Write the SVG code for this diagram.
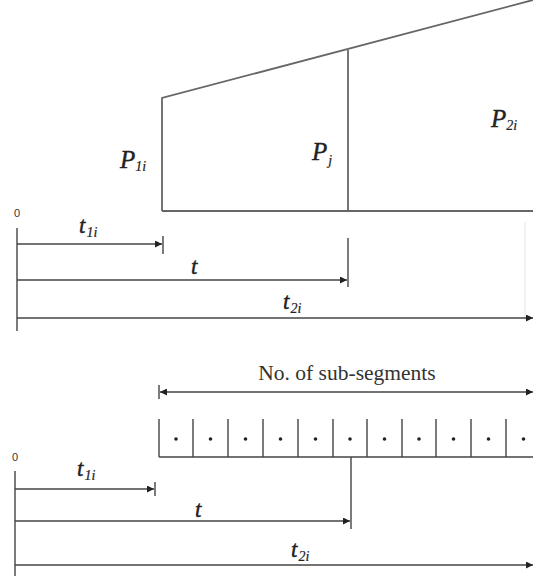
<svg xmlns="http://www.w3.org/2000/svg" width="533" height="577" viewBox="0 0 533 577">
<style>
.ln{stroke:#444;stroke-width:1.4;fill:none}
.bx{stroke:#666;stroke-width:1.8;fill:none}
.it{font-family:"Liberation Serif","Times New Roman",serif;font-style:italic;fill:#222;stroke:#222;stroke-width:0.4}
.big{font-size:25px}
.mid{font-size:23px}
.sub{font-size:14px;stroke-width:0.2}
.zero{font-family:"Liberation Sans",Arial,sans-serif;font-size:11px;fill:#333}
.lab{font-family:"Liberation Serif","Times New Roman",serif;font-size:21.5px;fill:#333}
</style>
<defs>
<marker id="ah" viewBox="0 0 10 10" refX="10" refY="5" markerWidth="9" markerHeight="7" markerUnits="userSpaceOnUse" orient="auto-start-reverse">
<path d="M0,0 L10,5 L0,10 Z" fill="#222"/>
</marker>
</defs>

<g id="power-profile">
<path class="bx" d="M162,211 L162,98 L533,0"/>
<line class="bx" x1="348" y1="50" x2="348" y2="211"/>
<line class="bx" x1="162" y1="211" x2="533" y2="211"/>
</g>
<g id="label-P1i"><text class="it big" x="120" y="168">P<tspan class="sub" dx="0" dy="3">1i</tspan></text></g>
<g id="label-Pj"><text class="it big" x="312" y="160">P<tspan class="sub" dx="1" dy="5">j</tspan></text></g>
<g id="label-P2i"><text class="it big" x="491" y="127">P<tspan class="sub" dx="0" dy="3">2i</tspan></text></g>

<g id="sub-segments">
<line class="ln" x1="159" y1="457" x2="533" y2="457"/>
<g class="ln">
<line x1="159" y1="419" x2="159" y2="457"/>
<line x1="193" y1="419" x2="193" y2="457"/>
<line x1="228" y1="419" x2="228" y2="457"/>
<line x1="263" y1="419" x2="263" y2="457"/>
<line x1="298" y1="419" x2="298" y2="457"/>
<line x1="333" y1="419" x2="333" y2="457"/>
<line x1="367" y1="419" x2="367" y2="457"/>
<line x1="402" y1="419" x2="402" y2="457"/>
<line x1="436" y1="419" x2="436" y2="457"/>
<line x1="471" y1="419" x2="471" y2="457"/>
<line x1="506" y1="419" x2="506" y2="457"/>
</g>
<g fill="#222">
<circle cx="176" cy="439" r="1.8"/>
<circle cx="210.5" cy="439" r="1.8"/>
<circle cx="245.5" cy="439" r="1.8"/>
<circle cx="280.5" cy="439" r="1.8"/>
<circle cx="315.5" cy="439" r="1.8"/>
<circle cx="350" cy="439" r="1.8"/>
<circle cx="384.5" cy="439" r="1.8"/>
<circle cx="419" cy="439" r="1.8"/>
<circle cx="453.5" cy="439" r="1.8"/>
<circle cx="488.5" cy="439" r="1.8"/>
<circle cx="523.5" cy="439" r="1.8"/>
</g>
</g>
<g id="label-nsub"><text class="lab" x="347" y="380" text-anchor="middle">No. of sub-segments</text></g>

<g id="connectors">
<!-- top timeline -->
<line class="ln" x1="17" y1="228" x2="17" y2="331"/>
<line class="ln" x1="163" y1="236" x2="163" y2="254"/>
<line class="ln" x1="348" y1="238" x2="348" y2="287"/>
<line x1="525" y1="222" x2="525" y2="320" stroke="#e4e4e4" stroke-width="1"/>
<line class="ln" x1="17" y1="244" x2="162" y2="244" marker-end="url(#ah)"/>
<line class="ln" x1="17" y1="280" x2="347" y2="280" marker-end="url(#ah)"/>
<line class="ln" x1="17" y1="318" x2="533" y2="318" marker-end="url(#ah)"/>
<!-- sub-segment span -->
<line class="ln" x1="159" y1="385" x2="159" y2="399"/>
<line class="ln" x1="160" y1="392" x2="533" y2="392" marker-start="url(#ah)" marker-end="url(#ah)"/>
<!-- bottom timeline -->
<line class="ln" x1="15" y1="471" x2="15" y2="576"/>
<line class="ln" x1="155" y1="482" x2="155" y2="496"/>
<line class="ln" x1="351" y1="457" x2="351" y2="529"/>
<line class="ln" x1="15" y1="489" x2="154" y2="489" marker-end="url(#ah)"/>
<line class="ln" x1="15" y1="521" x2="350" y2="521" marker-end="url(#ah)"/>
<line class="ln" x1="15" y1="565" x2="533" y2="565" marker-end="url(#ah)"/>
</g>

<g id="top-time-labels">
<text class="zero" x="17" y="217" text-anchor="middle">0</text>
<text class="it mid" x="79" y="233">t<tspan class="sub" dx="1" dy="4">1i</tspan></text>
<text class="it mid" x="191" y="274">t</text>
<text class="it mid" x="283" y="309">t<tspan class="sub" dx="1" dy="4">2i</tspan></text>
</g>
<g id="bottom-time-labels">
<text class="zero" x="15" y="461" text-anchor="middle">0</text>
<text class="it mid" x="77" y="476">t<tspan class="sub" dx="1" dy="4">1i</tspan></text>
<text class="it mid" x="195" y="517">t</text>
<text class="it mid" x="291" y="557">t<tspan class="sub" dx="1" dy="4">2i</tspan></text>
</g>
</svg>
